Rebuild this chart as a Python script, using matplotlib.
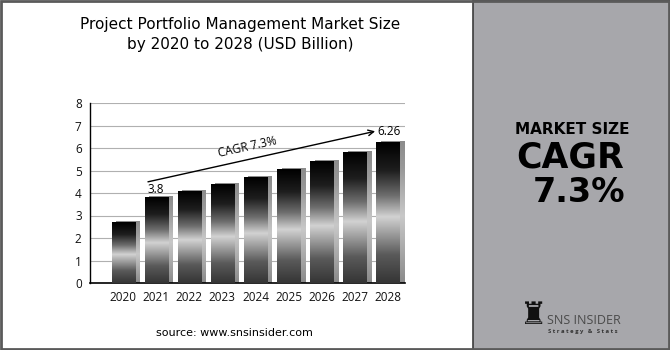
import matplotlib.pyplot as plt
import numpy as np
from matplotlib.colors import LinearSegmentedColormap
from matplotlib.patches import Rectangle

# data
years = ['2020', '2021', '2022', '2023', '2024', '2025', '2026', '2027', '2028']
market_size = [2.7, 3.8, 4.08, 4.37, 4.69, 5.04, 5.41, 5.81, 6.26]
cagr_label = 'CAGR 7.3%'
first_label = '3.8'
last_label = '6.26'

plt.rcParams['font.family'] = ['Open Sans', 'DejaVu Sans']

fig = plt.figure(figsize=(6.7, 3.5), dpi=100)

# background panels
fig.patches.append(Rectangle((0, 0), 1, 1, transform=fig.transFigure,
                             facecolor='white', edgecolor='none', zorder=-3))
fig.patches.append(Rectangle((473 / 670, 0), 1 - 473 / 670, 1, transform=fig.transFigure,
                             facecolor='#a7a7ab', edgecolor='#3c3c3c', lw=1.2, zorder=-2))
fig.patches.append(Rectangle((0.001, 0.002), 0.997, 0.995, transform=fig.transFigure,
                             facecolor='none', edgecolor='#5a5a5a', lw=2, zorder=5))

ax = fig.add_axes([90 / 670, (350 - 283) / 350, 315 / 670, 180 / 350])

cmap = LinearSegmentedColormap.from_list('bar', [
    (0.0, '#353535'), (0.2, '#5a5a5a'), (0.47, '#d2d2d2'),
    (0.62, '#6e6e6e'), (0.8, '#1e1e1e'), (1.0, '#000000')])
shade = LinearSegmentedColormap.from_list('side', [
    (0.0, '#8a8a8a'), (0.47, '#c8c8c8'), (0.8, '#9a9a9a'), (1.0, '#8c8c8c')])

x = np.arange(len(years))
w = 0.7
grad = np.linspace(0, 1, 256).reshape(-1, 1)
for xi, v in zip(x, market_size):
    # side shadow
    ax.imshow(grad, cmap=shade, origin='lower', aspect='auto',
              extent=[xi - w / 2 + 0.14, xi + w / 2 + 0.14, 0, v + 0.04], zorder=2)
    ax.imshow(grad, cmap=cmap, origin='lower', aspect='auto',
              extent=[xi - w / 2, xi + w / 2, 0, v], zorder=3)

ax.set_xlim(-1.0, 8.52)
ax.set_ylim(0, 8)
ax.set_yticks(range(0, 9))
ax.set_xticks(x)
ax.set_xticklabels(years)
ax.tick_params(length=0, labelsize=8.5, colors='#111111')
ax.tick_params(axis='x', pad=6)
ax.tick_params(axis='y', pad=6)
ax.grid(axis='y', color='#b0b0b0', lw=0.8)
ax.set_axisbelow(True)
for s in ['top', 'right']:
    ax.spines[s].set_visible(False)
ax.spines['left'].set_linewidth(1)
ax.spines['bottom'].set_linewidth(1.2)

# CAGR arrow and labels
ax.annotate('', xy=(7.7, 6.77), xytext=(0.67, 4.47),
            arrowprops=dict(arrowstyle='->', color='black', lw=1.0))
ax.text(3.75, 6.05, cagr_label, rotation=12.5, ha='center', va='center', fontsize=8.5)
ax.text(1, 3.88, first_label, ha='center', va='bottom', fontsize=8.5)
ax.text(8.05, 6.45, last_label, ha='center', va='bottom', fontsize=8.5)

# title and source
fig.text(240 / 670, 1 - 25 / 350, 'Project Portfolio Management Market Size',
         ha='center', va='center', fontsize=11, family='DejaVu Sans')
fig.text(240 / 670, 1 - 45 / 350, 'by 2020 to 2028 (USD Billion)',
         ha='center', va='center', fontsize=11, family='DejaVu Sans')
fig.text(234 / 670, 1 - 333 / 350, 'source: www.snsinsider.com',
         ha='center', va='center', fontsize=8, family='DejaVu Sans')

# right panel
fig.text(572 / 670, 1 - 129 / 350, 'MARKET SIZE', ha='center', va='center',
         fontsize=11, fontweight='bold', family='DejaVu Sans')
fig.text(570 / 670, 1 - 157 / 350, 'CAGR', ha='center', va='center',
         fontsize=25, fontweight='bold', family='DejaVu Sans')
fig.text(579 / 670, 1 - 192 / 350, '7.3%', ha='center', va='center',
         fontsize=24, fontweight='bold', family='DejaVu Sans')
fig.text(534 / 670, 1 - 316 / 350, '\u265c', ha='center', va='center',
         fontsize=22, family='DejaVu Sans', color='#111111')
fig.text(547 / 670, 1 - 320 / 350, 'SNS INSIDER', ha='left', va='center',
         fontsize=9, color='#4a4a4a')
fig.text(548 / 670, 1 - 331 / 350, 'S t r a t e g y   &   S t a t s', ha='left', va='center',
         fontsize=4.2, color='#333333', fontweight='bold')

fig.savefig('out.png', dpi=100)
plt.close('all')
